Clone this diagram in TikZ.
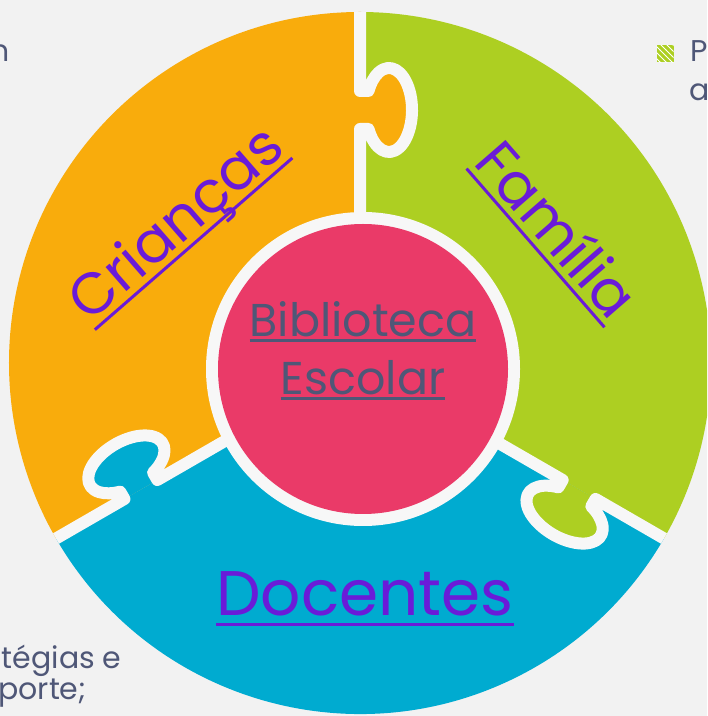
\documentclass[tikz,border=0pt]{standalone}
\usepackage{fontspec}
\setmainfont{Poppins}
\usetikzlibrary{patterns}
\definecolor{bgGray}{HTML}{F2F2F2}
\definecolor{gapWhite}{HTML}{F7F7F7}
\definecolor{kidsOrange}{HTML}{F9AC0C}
\definecolor{familyGreen}{HTML}{ADCF22}
\definecolor{teachBlue}{HTML}{00ABD0}
\definecolor{libPink}{HTML}{EA3A68}
\definecolor{linkPurple}{HTML}{6A1BD8}
\definecolor{slateText}{HTML}{4F5777}
\newsavebox{\ulbox}
\newcommand{\ulword}[2][0.16em]{\sbox{\ulbox}{#2}%
  \rlap{\rule[-#1]{\wd\ulbox}{1.5pt}}\usebox{\ulbox}}
\tikzset{
  cut/.style={draw=gapWhite, line width=6pt, line join=round},
  biglabel/.style={text=linkPurple, inner sep=0pt, font=\fontsize{29}{35}\selectfont},
  bgtext/.style={text=slateText, inner sep=0pt, font=\fontsize{15}{18}\selectfont}
}

\begin{document}
\begin{tikzpicture}[x=0.5pt, y=0.5pt]
    \fill[bgGray] (-360,-353) rectangle (347,363);
    \useasboundingbox (-360,-353) rectangle (347,363);
    \clip (-360,-353) rectangle (347,363);

    % text of the slide behind the puzzle
    \node[bgtext, anchor=base east] (frag1) at (-350,301) {n};
    \node[preaction={fill=familyGreen}, pattern=north west lines, pattern color=white,
      minimum size=8.5pt, inner sep=0pt] (bullet) at (305,309) {};
    \node[bgtext, anchor=base west] (frag2) at (330,301) {P};
    \node[bgtext, anchor=base west] (frag3) at (329,262) {a};
    \node[bgtext, anchor=base east] (frag4) at (-238,-305) {atégias e};
    \node[bgtext, anchor=base west] (frag5) at (-362,-336) {porte;};

    % three pieces
    \fill[kidsOrange] (0,0) -- (90:351) arc[start angle=90, end angle=210, radius=351] -- cycle;
    \fill[teachBlue] (0,0) -- (210:351) arc[start angle=210, end angle=330, radius=351] -- cycle;
    \fill[familyGreen] (0,0) -- (330:351) arc[start angle=330, end angle=450, radius=351] -- cycle;

    \foreach \ang/\col in {90/kidsOrange, 210/teachBlue, 330/familyGreen}{
      \begin{scope}[rotate=\ang-90]
        \fill[\col] (0,234) -- (8.5,234)
          arc[start angle=-153.1, end angle=153.1, x radius=23, y radius=42] -- (0,272) -- cycle;
        \draw[cut] (0,130) -- (0,234) -- (8.5,234)
          arc[start angle=-153.1, end angle=153.1, x radius=23, y radius=42] -- (0,272) -- (0,351);
      \end{scope}
    }

    \fill[gapWhite] (3,-6) circle[radius=157];
    \node[circle, fill=libPink, minimum size=145pt, inner sep=0pt] (lib) at (3,-6) {};
    \node[align=center, text=slateText, inner sep=0pt,
      font=\fontsize{23}{29}\selectfont] (libname) at (3,12)
      {\ulword[0.12em]{Biblioteca}\\\ulword[0.12em]{Escolar}};

    \node[biglabel, rotate=41] (kids) at (-181,136) {\ulword{Crianças}};
    \node[biglabel, rotate=-49] (family) at (195,132) {\ulword{Família}};
    \node[biglabel, font=\fontsize{31.5}{38}\selectfont] (teachers)
      at (5,-236) {\ulword{Docentes}};
\end{tikzpicture}
\end{document}
